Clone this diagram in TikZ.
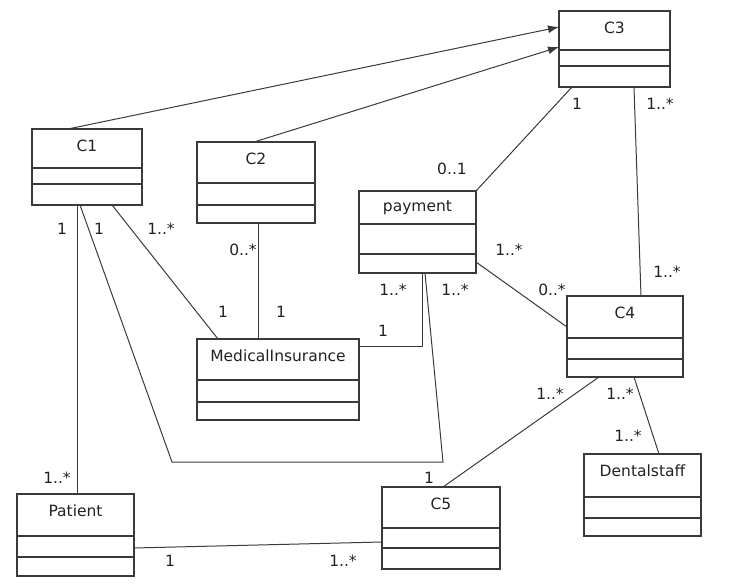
\documentclass[tikz,border=0pt]{standalone}
\usepackage{fontspec}
\setmainfont{DejaVu Sans}
\usepackage{tikz}
\usetikzlibrary{arrows.meta, positioning}
\definecolor{umlline}{HTML}{3A3A3A}
\definecolor{umltext}{HTML}{222222}
\tikzstyle{classbox}  = [rectangle, draw=umlline, line width=1.3pt, outer sep=0pt,
                         inner sep=0pt, fill=white]
\tikzstyle{classname} = [font=\fontsize{15.5}{18}\selectfont, text=umltext, inner sep=0pt]
\tikzstyle{mult}      = [font=\fontsize{15.5}{18}\selectfont, text=umltext, inner sep=0pt]
\tikzstyle{assoc}     = [draw=umlline, line width=1pt]
\tikzstyle{arrow}     = [-{Latex[length=11pt,width=8pt]}, draw=umlline, line width=1pt]

% name, title, corner, width, height, first and second divider
\newcommand{\umlclass}[7]{%
  \node[classbox, minimum width=#4pt, minimum height=#5pt, anchor=north west] (#1) at (#3) {};
  \node[classname] (#1-t) at ([yshift=-17pt]#1.north) {#2};
  \draw[umlline, line width=1.3pt] ([yshift=-#6pt]#1.north west) -- ([yshift=-#6pt]#1.north east);
  \draw[umlline, line width=1.3pt] ([yshift=-#7pt]#1.north west) -- ([yshift=-#7pt]#1.north east);
}

\begin{document}
\begin{tikzpicture}[x=1pt, y=-1pt]
  \useasboundingbox (0,0) rectangle (740,588);

  \umlclass{c1}{C1}{32,129}{110}{76}{39}{55}
  \umlclass{c2}{C2}{197,142}{118}{81}{41}{63}
  \umlclass{c3}{C3}{559,11}{111}{76}{39}{55}
  \umlclass{pay}{payment}{359,191}{117}{82}{33}{63}
  \umlclass{ins}{MedicalInsurance}{197,339}{162}{81}{41}{63}
  \umlclass{pat}{Patient}{17,494}{117}{82}{42}{63}
  \umlclass{c4}{C4}{567,296}{116}{81}{42}{63}
  \umlclass{c5}{C5}{382,487}{118}{82}{41}{61}
  \umlclass{staff}{Dentalstaff}{584,454}{117}{82}{43}{64}

  \coordinate (bendL) at (172,462);
  \coordinate (bendR) at (443,462);

  % generalisations to C3
  \draw[arrow] ([xshift=36pt]c1.north west) -- ([yshift=-16pt]c3.north west);
  \draw[arrow] ([xshift=57pt]c2.north west) -- ([yshift=-36pt]c3.north west);

  % associations
  \draw[assoc] ([xshift=13pt]c3.south west) -- (pay.north east);
  \draw[assoc] ([xshift=75pt]c3.south west) -- ([xshift=74pt]c4.north west);
  \draw[assoc] ([yshift=11pt]pay.south east) -- ([yshift=-31pt]c4.north west);
  \draw[assoc] ([xshift=45pt]c1.south west) -- ([xshift=60pt]pat.north west);
  \draw[assoc] ([xshift=48pt]c1.south west) -- (bendL) -- (bendR) -- ([xshift=66pt]pay.south west);
  \draw[assoc] ([xshift=63pt]pay.south west) |- ([yshift=-8pt]ins.north east);
  \draw[assoc] ([xshift=80pt]c1.south west) -- ([xshift=21pt]ins.north west);
  \draw[assoc] ([xshift=61pt]c2.south west) -- ([xshift=61pt]ins.north west);
  \draw[assoc] ([xshift=32pt]c4.south west) -- ([xshift=61pt]c5.north west);
  \draw[assoc] ([xshift=67pt]c4.south west) -- ([xshift=75pt]staff.north west);
  \draw[assoc] ([yshift=28pt]pat.south east) -- ([yshift=27pt]c5.south west);

  % multiplicities
  \node[mult] (m-c3a)   at (577,104) {1};
  \node[mult] (m-c3b)   at (660,104) {1..*};
  \node[mult] (m-paya)  at (452,169) {0..1};
  \node[mult] (m-c4a)   at (667,272) {1..*};
  \node[mult] (m-payb)  at (509,250) {1..*};
  \node[mult] (m-c4b)   at (552,290) {0..*};
  \node[mult] (m-payc)  at (393,290) {1..*};
  \node[mult] (m-payd)  at (455,290) {1..*};
  \node[mult] (m-c1a)   at (62,229)  {1};
  \node[mult] (m-c1b)   at (99,229)  {1};
  \node[mult] (m-c1c)   at (161,229) {1..*};
  \node[mult] (m-c2)    at (243,250) {0..*};
  \node[mult] (m-insa)  at (223,312) {1};
  \node[mult] (m-insb)  at (281,312) {1};
  \node[mult] (m-insc)  at (383,331) {1};
  \node[mult] (m-pata)  at (57,478)  {1..*};
  \node[mult] (m-patb)  at (170,561) {1};
  \node[mult] (m-c5a)   at (343,561) {1..*};
  \node[mult] (m-c5b)   at (429,478) {1};
  \node[mult] (m-c4c)   at (550,394) {1..*};
  \node[mult] (m-c4d)   at (620,394) {1..*};
  \node[mult] (m-staff) at (628,436) {1..*};

\end{tikzpicture}
\end{document}
